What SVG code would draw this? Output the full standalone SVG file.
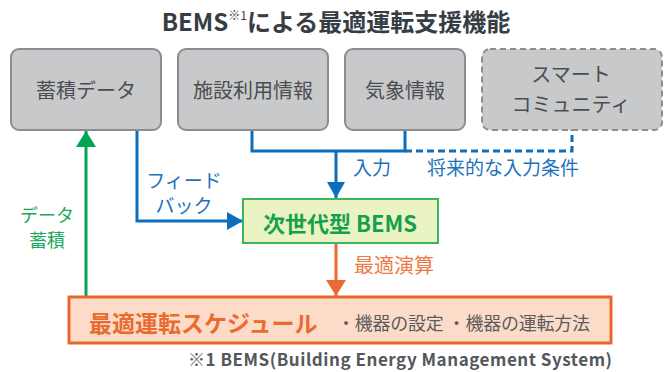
<svg xmlns="http://www.w3.org/2000/svg" width="670" height="372" viewBox="0 0 670 372">
<style>
text{font-family:"Noto Sans CJK JP","Noto Sans",sans-serif}
.box{fill:#c8c9cb;stroke:#8b8d90;stroke-width:2}
.bt{fill:#4b4d50;font-size:20px;text-anchor:middle}
.blue{stroke:#0d6ebb;stroke-width:3;fill:none}
.bl{fill:#1d72bd;font-size:19px}
</style>
<defs>
<marker id="ab" markerUnits="userSpaceOnUse" markerWidth="20" markerHeight="20" refX="16" refY="10" orient="auto"><path d="M0,1 L16,10 L0,19 Z" fill="#0d6ebb"/></marker>
<marker id="ag" markerUnits="userSpaceOnUse" markerWidth="20" markerHeight="22" refX="16" refY="10" orient="auto"><path d="M0,0 L16,10 L0,20 Z" fill="#00a651"/></marker>
<marker id="ao" markerUnits="userSpaceOnUse" markerWidth="20" markerHeight="22" refX="16" refY="10" orient="auto"><path d="M0,0 L16,10 L0,20 Z" fill="#e96b30"/></marker>
</defs>
<text x="336" y="31" text-anchor="middle" font-weight="bold" fill="#363d44" font-size="24">BEMS<tspan font-size="12" dy="-11" font-weight="normal">※1</tspan><tspan dy="11">による最適運転支援機能</tspan></text>
<g id="connectors">
<path class="blue" d="M252,130 V151 H405 V130"/>
<path class="blue" d="M405,151 H572 V130" stroke-dasharray="7,4"/>
<path class="blue" d="M336,151 V198" marker-end="url(#ab)"/>
<path class="blue" d="M137,130 V221 H243" marker-end="url(#ab)"/>
<path d="M86,297 V131" stroke="#00a651" stroke-width="3" fill="none" marker-end="url(#ag)"/>
<path d="M336,243 V296" stroke="#e96b30" stroke-width="3" fill="none" marker-end="url(#ao)"/>
<text class="bl" x="353" y="175">入力</text>
<text class="bl" x="427" y="175" font-size="20">将来的な入力条件</text>
<text class="bl" x="184" y="188" text-anchor="middle" font-size="18">フィード</text>
<text class="bl" x="184" y="213" text-anchor="middle" font-size="18">バック</text>
<text x="47" y="222" text-anchor="middle" fill="#1aa85a" font-size="18">データ</text>
<text x="47" y="247" text-anchor="middle" fill="#1aa85a" font-size="18">蓄積</text>
<text x="354" y="273" fill="#ec7a45" font-size="20">最適演算</text>
</g>
<g id="n1"><rect class="box" x="11" y="49" width="150" height="81" rx="8"/><text class="bt" x="86" y="98">蓄積データ</text></g>
<g id="n2"><rect class="box" x="178" y="49" width="150" height="81" rx="8"/><text class="bt" x="253" y="98">施設利用情報</text></g>
<g id="n3"><rect class="box" x="345" y="49" width="120" height="81" rx="8"/><text class="bt" x="405" y="98">気象情報</text></g>
<g id="n4"><rect class="box" x="482" y="49" width="180" height="81" rx="8" stroke-dasharray="6,4"/><text class="bt" x="571" y="82">スマート</text><text class="bt" x="571" y="112">コミュニティ</text></g>
<g id="bems"><rect x="243" y="199" width="195" height="44" fill="#eaf4c2" stroke="#3cb55e" stroke-width="2"/><text x="340" y="232" text-anchor="middle" font-weight="bold" fill="#17a04c" font-size="22">次世代型 BEMS</text></g>
<g id="sched"><rect x="69" y="297" width="542" height="46" fill="#fcdcc8" stroke="#e8672a" stroke-width="3"/><text x="89" y="332" font-weight="bold" fill="#e96b30" font-size="23">最適運転スケジュール</text><text x="337" y="330" fill="#5a5c5f" font-size="18" textLength="253">・機器の設定<tspan dx="4">・機器の運転方法</tspan></text></g>
<text x="612" y="366" text-anchor="end" fill="#55575a" font-size="17" font-weight="bold" textLength="424">※1 BEMS(Building Energy Management System)</text>
</svg>
